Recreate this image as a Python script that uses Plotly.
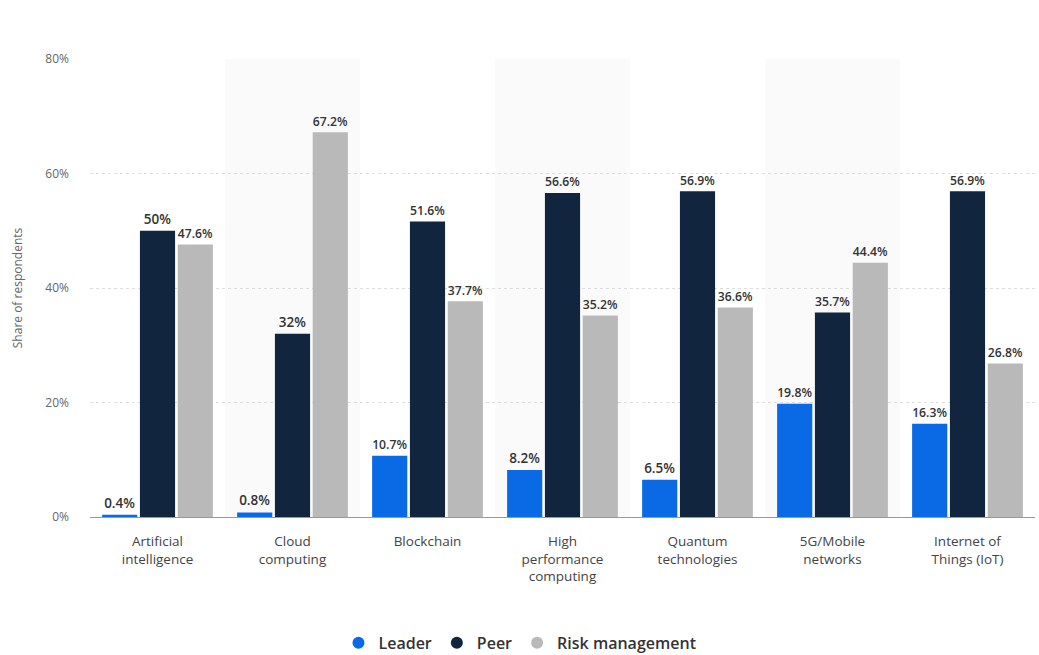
import plotly.graph_objects as go

categories = ["Artificial<br>intelligence", "Cloud<br>computing", "Blockchain",
              "High<br>performance<br>computing", "Quantum<br>technologies",
              "5G/Mobile<br>networks", "Internet of<br>Things (IoT)"]
leader = [0.4, 0.8, 10.7, 8.2, 6.5, 19.8, 16.3]
peer = [50, 32, 51.6, 56.6, 56.9, 35.7, 56.9]
risk = [47.6, 67.2, 37.7, 35.2, 36.6, 44.4, 26.8]
y_ticks = [0, 20, 40, 60, 80]
y_tick_labels = ["0%", "20%", "40%", "60%", "80%"]

colors = {"Leader": "#0a6ae6", "Peer": "#11253f", "Risk management": "#b9b9b9"}

fig = go.Figure()
for name, vals in [("Leader", leader), ("Peer", peer), ("Risk management", risk)]:
    fig.add_trace(go.Bar(
        x=categories, y=vals, name=name, showlegend=False,
        marker=dict(color=colors[name], line=dict(width=0)),
        text=[f"{v:g}%" for v in vals], textposition="outside",
        textfont=dict(size=13.5, color="#333333", family="Open Sans", weight=600),
        cliponaxis=False,
    ))
# legend entries with circle symbols
for name in ["Leader", "Peer", "Risk management"]:
    fig.add_trace(go.Scatter(
        x=[None], y=[None], mode="markers", name=name,
        marker=dict(symbol="circle", size=16, color=colors[name]),
    ))

shapes = []
for i in range(1, len(categories), 2):
    shapes.append(dict(type="rect", xref="x", yref="y", x0=i - 0.5, x1=i + 0.5,
                       y0=0, y1=80, fillcolor="#fafafa", line=dict(width=0), layer="below"))

fig.update_layout(
    width=1039, height=655,
    margin=dict(l=90, r=4, t=59, b=138, autoexpand=False),
    paper_bgcolor="white", plot_bgcolor="white",
    barmode="group", bargap=0.16, bargroupgap=0.07,
    font=dict(family="Open Sans", color="#333333"),
    shapes=shapes,
    showlegend=True,
    legend=dict(orientation="h", x=0.455, xanchor="center", y=-0.275, yanchor="middle",
                font=dict(size=16, color="#333333", weight=600), itemsizing="constant",
                traceorder="normal"),
    xaxis=dict(tickfont=dict(size=13.5, color="#444444"), showline=True,
               linecolor="#999999", linewidth=1, ticks="", showgrid=False,
               ticklabelstandoff=12, automargin=False),
    yaxis=dict(range=[0, 80], tickvals=y_ticks, ticktext=y_tick_labels,
               tickfont=dict(size=12, color="#666666"), automargin=False,
               showgrid=True, gridcolor="#dddddd", griddash="dot", zeroline=False,
               ticklabelstandoff=20,
               title=dict(text="Share of respondents", font=dict(size=12, color="#666666"),
                          standoff=20)),
)

fig.write_html("out.html")
